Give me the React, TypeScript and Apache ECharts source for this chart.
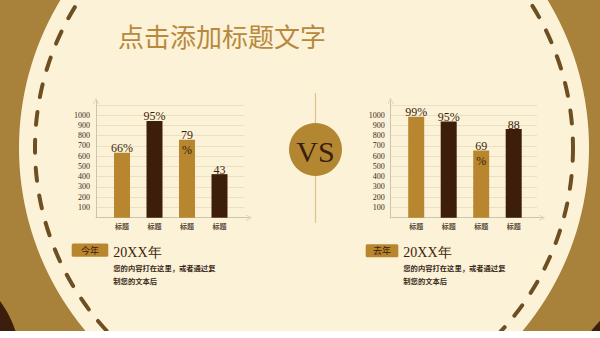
import React, { useEffect, useRef } from "react";
import * as echarts from "echarts";

const categories = ["标题", "标题", "标题", "标题"];
const leftValues = [635, 945, 760, 425];
const leftLabels = ["66%", "95%", "79\n%", "43\n%"];
const rightValues = [985, 940, 655, 865];
const rightLabels = ["99%", "95%", "69\n%", "88\n%"];
const barColors = ["#b8862f", "#3d1e0b", "#b8862f", "#3d1e0b"];
const yMin = 0;
const yMax = 1100;
const yStep = 100;

const titleText = "点击添加标题文字";
const leftBadge = "今年";
const rightBadge = "去年";
const yearText = "20XX年";
const descText = "您的内容打在这里，或者通过复\n制您的文本后";

const BG = "#a8823a";
const CREAM = "#fcf2d8";
const DARK = "#3b1e0b";
const GOLD = "#b8862f";
const AXIS = "#cbc3b4";
const GRIDLINE = "#ebdfc4";
const SERIF = "'Liberation Serif', 'DejaVu Serif', serif";
const CJK = "'Noto Sans CJK SC', sans-serif";

const arrowPath = "path://M0,10 L5,0 L10,10 L9,10 L5,2 L1,10 Z";

function buildChart(
  idx: number,
  axisLeft: number,
  gridRight: number,
  arrowEnd: number,
  barLeft: number,
  values: number[],
  labels: string[]
) {
  const top = 105;
  const bottom = 217.7;
  const g0 = idx * 3;
  const grids = [
    { left: axisLeft, top: 101, width: arrowEnd - axisLeft, height: bottom - 101 },
    { left: axisLeft, top, width: gridRight - axisLeft, height: bottom - top },
    { left: barLeft, top, width: 130, height: bottom - top },
  ];
  const xAxes = [
    {
      gridIndex: g0,
      type: "value",
      min: 0,
      max: 1,
      axisLine: {
        show: true,
        onZero: false,
        symbol: ["none", arrowPath],
        symbolSize: [6, 7],
        lineStyle: { color: AXIS, width: 1 },
      },
      axisTick: { show: false },
      axisLabel: { show: false },
      splitLine: { show: false },
    },
    {
      gridIndex: g0 + 1,
      type: "value",
      min: 0,
      max: 1,
      show: false,
    },
    {
      gridIndex: g0 + 2,
      type: "category",
      data: categories,
      axisLine: { show: false },
      axisTick: { show: false },
      axisLabel: {
        margin: 5,
        fontSize: 7,
        fontFamily: CJK,
        fontWeight: "bold",
        color: "#5a4a3a",
      },
      splitLine: { show: false },
    },
  ];
  const yAxes = [
    {
      gridIndex: g0,
      type: "value",
      min: 0,
      max: 1,
      axisLine: {
        show: true,
        onZero: false,
        symbol: ["none", arrowPath],
        symbolSize: [6, 7],
        lineStyle: { color: AXIS, width: 1 },
      },
      axisTick: { show: false },
      axisLabel: { show: false },
      splitLine: { show: false },
    },
    {
      gridIndex: g0 + 1,
      type: "value",
      min: yMin,
      max: yMax,
      interval: yStep,
      axisLine: { show: false },
      axisTick: { show: false },
      axisLabel: {
        showMinLabel: false,
        showMaxLabel: false,
        formatter: (v: number) => String(v),
        margin: 6,
        fontSize: 8,
        fontFamily: SERIF,
        color: "#3a2a1a",
        padding: [3, 0, 0, 0],
      },
      splitLine: { show: true, lineStyle: { color: GRIDLINE, width: 1 } },
    },
    {
      gridIndex: g0 + 2,
      type: "value",
      min: yMin,
      max: yMax,
      interval: yStep,
      show: false,
    },
  ];
  const series = [
    {
      type: "bar",
      xAxisIndex: g0 + 2,
      yAxisIndex: g0 + 2,
      barWidth: 16,
      data: values.map((v, i) => ({
        value: v,
        itemStyle: { color: barColors[i] },
        label: {
          show: true,
          formatter: labels[i],
          position: ["50%", 0],
          align: "center",
          verticalAlign: "top",
          offset: [0, -12],
          fontSize: 12,
          lineHeight: 15,
          fontFamily: SERIF,
          color: DARK,
        },
      })),
    },
  ];
  return { grids, xAxes, yAxes, series };
}

export default function App() {
  const ref = useRef<HTMLDivElement>(null);
  useEffect(() => {
    if (!ref.current) return;
    const chart = echarts.init(ref.current, undefined, { renderer: "svg" });
    const L = buildChart(0, 96, 244, 249, 105.75, leftValues, leftLabels);
    const R = buildChart(1, 390.7, 537, 542, 399.95, rightValues, rightLabels);

    const descStyle = {
      fill: "#3a2a1a",
      fontSize: 7.3,
      fontFamily: CJK,
      fontWeight: "bold",
      lineHeight: 13.3,
      align: "left",
      verticalAlign: "top",
    };

    const option: any = {
      animation: false,
      backgroundColor: BG,
      grid: [...L.grids, ...R.grids],
      xAxis: [...L.xAxes, ...R.xAxes],
      yAxis: [...L.yAxes, ...R.yAxes],
      series: [...L.series, ...R.series],
      graphic: [
        { type: "circle", z: -20, silent: true, shape: { cx: -87, cy: 365, r: 108 }, style: { fill: DARK } },
        { type: "circle", z: -20, silent: true, shape: { cx: 656, cy: 378, r: 80 }, style: { fill: DARK } },
        { type: "circle", z: -19, silent: true, shape: { cx: 304, cy: 148, r: 285 }, style: { fill: CREAM } },
        {
          type: "circle",
          z: -18,
          silent: true,
          shape: { cx: 304, cy: 148, r: 269 },
          style: { fill: "none", stroke: "#6e4f22", lineWidth: 4, lineDash: [13, 15], lineCap: "round" },
        },
        { type: "rect", z: 50, silent: true, shape: { x: 0, y: 331, width: 600, height: 10 }, style: { fill: "#ffffff" } },
        {
          type: "text",
          x: 118,
          y: 35,
          style: { text: titleText, fill: "#b8893c", fontSize: 26, fontFamily: CJK, align: "left", verticalAlign: "middle" },
        },
        {
          type: "line",
          z: -10,
          shape: { x1: 315.5, y1: 93, x2: 315.5, y2: 223 },
          style: { stroke: "#dcc38c", lineWidth: 1.2 },
        },
        { type: "circle", z: -9, shape: { cx: 315.5, cy: 149.5, r: 26.5 }, style: { fill: "#b38632" } },
        {
          type: "text",
          x: 315.5,
          y: 151,
          style: { text: "VS", fill: DARK, fontSize: 30, fontFamily: SERIF, align: "center", verticalAlign: "middle" },
        },
        // left footer
        { type: "rect", shape: { x: 71.7, y: 243.5, width: 36.6, height: 13.3, r: 1.5 }, style: { fill: GOLD } },
        {
          type: "text",
          x: 90,
          y: 250.2,
          style: { text: leftBadge, fill: DARK, fontSize: 9, fontFamily: CJK, align: "center", verticalAlign: "middle" },
        },
        {
          type: "text",
          x: 113.3,
          y: 252,
          style: { text: yearText, fill: DARK, fontSize: 14, fontFamily: SERIF, align: "left", verticalAlign: "middle" },
        },
        { type: "text", x: 113.3, y: 261, style: { text: descText, ...descStyle } },
        // right footer
        { type: "rect", shape: { x: 365.7, y: 244.3, width: 32.6, height: 13, r: 1.5 }, style: { fill: GOLD } },
        {
          type: "text",
          x: 382,
          y: 250.8,
          style: { text: rightBadge, fill: DARK, fontSize: 9, fontFamily: CJK, align: "center", verticalAlign: "middle" },
        },
        {
          type: "text",
          x: 403.3,
          y: 252,
          style: { text: yearText, fill: DARK, fontSize: 14, fontFamily: SERIF, align: "left", verticalAlign: "middle" },
        },
        { type: "text", x: 403.3, y: 261, style: { text: descText, ...descStyle } },
      ],
    };
    chart.setOption(option);
    return () => chart.dispose();
  }, []);
  return (
    <div
      ref={ref}
      style={{ position: "fixed", left: 0, top: 0, width: 600, height: 338 }}
    />
  );
}
